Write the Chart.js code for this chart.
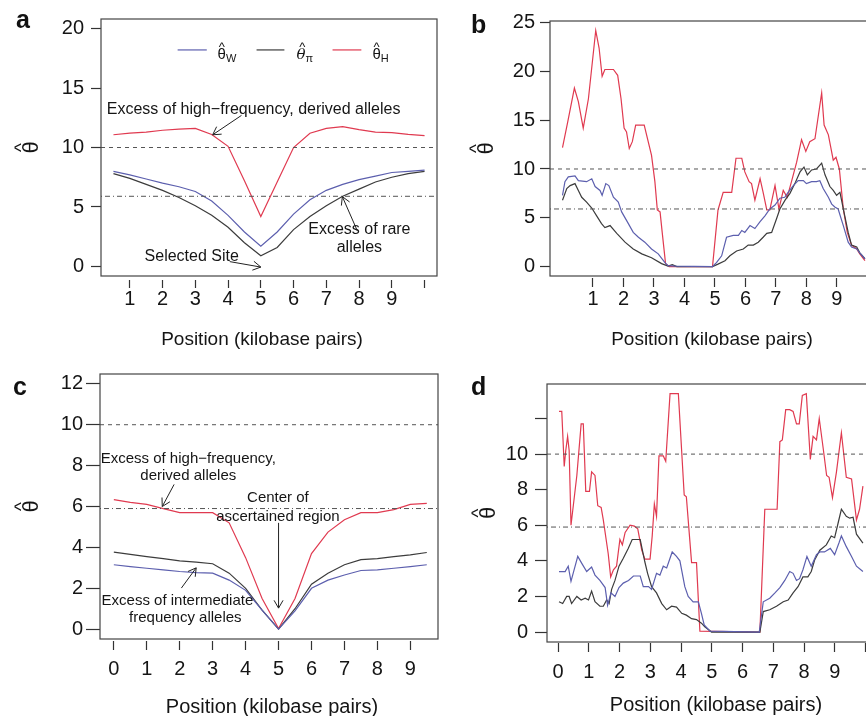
<!DOCTYPE html>
<html><head><meta charset="utf-8">
<script src="https://cdn.jsdelivr.net/npm/chart.js@4/dist/chart.umd.min.js"></script>
<style>
html,body{margin:0;padding:0;background:#fff;width:866px;height:716px;overflow:hidden;position:relative}
canvas{position:absolute;display:block}
</style></head>
<body>
<canvas id="ca" width="440" height="358" style="left:0;top:0"></canvas>
<canvas id="cb" width="449" height="358" style="left:440px;top:0"></canvas>
<canvas id="cc" width="440" height="358" style="left:0;top:358px"></canvas>
<canvas id="cd" width="440" height="358" style="left:440px;top:358px"></canvas>
<script>
// ---------- DATA ----------
// Panel a (x in kilobase pairs)
const aX = [0.5,1,1.5,2,2.5,3,3.5,4,4.5,5,5.5,6,6.5,7,7.5,8,8.5,9,9.5,10];
const aThetaW  = [8.0,7.7,7.35,7.0,6.7,6.3,5.5,4.3,2.9,1.7,2.9,4.4,5.6,6.4,6.9,7.3,7.6,7.9,8.0,8.1];
const aThetaPi = [7.8,7.4,6.9,6.4,5.8,5.1,4.3,3.3,2.0,0.9,1.6,3.1,4.2,5.1,5.9,6.5,7.1,7.5,7.8,8.0];
const aThetaH  = [11.07,11.2,11.3,11.45,11.55,11.6,11.1,10.1,7.2,4.2,7.1,10.0,11.2,11.6,11.75,11.5,11.3,11.25,11.1,11.0];

// Panel c
const cX = [0,0.5,1,1.5,2,2.5,3,3.5,4,4.5,5,5.5,6,6.5,7,7.5,8,8.5,9,9.5];
const cThetaW  = [3.15,3.06,2.98,2.9,2.82,2.77,2.74,2.4,1.9,0.93,0,0.9,2.0,2.4,2.65,2.87,2.9,2.98,3.06,3.15];
const cThetaPi = [3.77,3.66,3.55,3.45,3.34,3.28,3.2,2.74,2.0,0.93,0,1.0,2.2,2.74,3.15,3.4,3.45,3.55,3.63,3.75];
const cThetaH  = [6.34,6.2,6.1,5.9,5.7,5.7,5.7,5.2,3.5,1.5,0.03,1.5,3.7,4.75,5.35,5.7,5.7,5.85,6.1,6.15];

// Panel b  [position, theta]
const bThetaW = [[0,7.3],[0.08,8.7],[0.19,9.2],[0.41,9.3],[0.52,8.8],[0.79,8.7],[0.96,9.0],[1.07,8.2],[1.23,7.8],[1.3,7.3],[1.42,8.5],[1.52,8.3],[1.67,7.1],[1.83,6.6],[1.94,5.6],[2.16,4.4],[2.32,3.5],[2.49,3.0],[2.7,2.5],[2.92,1.8],[3.14,1.3],[3.36,0.4],[3.46,0.1],[3.7,0.05],[4.92,0],[5.05,0.4],[5.22,1.1],[5.38,3.0],[5.6,3.2],[5.77,3.2],[5.88,3.7],[5.98,3.5],[6.15,4.2],[6.31,3.9],[6.48,4.6],[6.64,5.2],[6.8,5.9],[6.97,6.3],[7.13,7.0],[7.29,7.1],[7.4,7.6],[7.57,8.3],[7.73,8.8],[7.9,8.8],[8.0,8.5],[8.17,8.7],[8.33,8.7],[8.44,8.8],[8.55,8.0],[8.72,7.1],[8.83,6.4],[8.93,6.1],[9.04,5.9],[9.21,4.2],[9.37,2.5],[9.48,2.0],[9.65,1.8],[9.75,1.4],[9.92,0.8]];
const bThetaPi = [[0,6.8],[0.14,8.0],[0.25,8.3],[0.41,8.5],[0.52,7.8],[0.63,7.1],[0.79,6.6],[0.96,6.0],[1.12,5.2],[1.28,4.4],[1.39,4.0],[1.56,4.2],[1.78,3.4],[2.05,2.5],[2.32,1.8],[2.6,1.3],[2.92,0.9],[3.25,0.3],[3.46,0.05],[3.6,0.2],[3.75,0],[4.92,0],[5.1,0.25],[5.33,0.6],[5.49,1.1],[5.71,1.6],[5.93,1.8],[6.09,2.2],[6.26,2.2],[6.42,2.5],[6.58,3.0],[6.7,3.4],[6.86,3.5],[7.02,4.9],[7.13,5.9],[7.3,6.8],[7.46,7.5],[7.62,8.5],[7.79,9.7],[7.92,10.2],[8.03,9.4],[8.17,9.9],[8.33,10.0],[8.5,10.6],[8.61,9.4],[8.77,8.2],[8.88,7.8],[8.99,7.3],[9.1,7.6],[9.21,5.9],[9.37,3.5],[9.48,2.2],[9.65,2.0],[9.75,1.4],[9.92,0.8]];
const bThetaH = [[0,12.2],[0.17,14.8],[0.39,18.3],[0.52,16.9],[0.68,14.2],[0.85,17.2],[1.09,24.2],[1.2,22.4],[1.3,19.5],[1.39,20.2],[1.67,20.2],[1.81,19.6],[1.92,17.2],[2.02,14.2],[2.1,13.8],[2.19,12.1],[2.29,12.8],[2.4,14.5],[2.68,14.5],[2.92,11.4],[3.03,8.7],[3.11,5.8],[3.2,5.6],[3.27,3.5],[3.38,0.3],[3.5,0],[4.92,0],[5.1,5.8],[5.27,7.6],[5.55,7.6],[5.69,11.1],[5.88,11.1],[5.98,9.7],[6.12,8.7],[6.2,8.5],[6.31,6.8],[6.48,9.0],[6.58,7.6],[6.7,5.8],[6.8,5.8],[6.97,8.3],[7.1,5.9],[7.24,7.8],[7.37,7.1],[7.51,8.7],[7.68,10.7],[7.84,13.0],[7.98,11.8],[8.11,12.8],[8.28,13.1],[8.5,17.8],[8.58,14.5],[8.72,13.5],[8.88,10.9],[8.97,11.2],[9.08,10.0],[9.21,5.9],[9.34,3.5],[9.48,2.2],[9.65,1.8],[9.75,1.3],[9.92,0.6]];

// Panel d  [position, theta]
const dThetaW = [[0.03,3.4],[0.23,3.4],[0.33,3.7],[0.42,2.85],[0.64,4.25],[0.79,3.8],[0.93,3.4],[1.09,3.65],[1.2,3.2],[1.36,2.9],[1.53,2.5],[1.61,1.5],[1.72,2.2],[1.85,2.0],[1.98,2.5],[2.12,2.75],[2.29,2.9],[2.45,3.15],[2.67,3.15],[2.77,2.55],[2.94,2.55],[3.04,2.4],[3.2,3.3],[3.31,3.2],[3.42,3.7],[3.53,3.6],[3.71,4.5],[3.85,4.25],[3.96,4.0],[4.12,2.55],[4.23,2.0],[4.39,1.7],[4.56,1.7],[4.66,1.05],[4.75,0.4],[4.94,0.05],[6.54,0],[6.67,1.7],[6.88,1.9],[7.05,2.2],[7.21,2.5],[7.37,2.9],[7.53,3.4],[7.64,3.3],[7.75,2.9],[7.85,3.0],[7.96,3.5],[8.09,4.25],[8.23,3.7],[8.4,4.35],[8.51,4.5],[8.66,4.5],[8.85,4.7],[8.99,4.35],[9.13,5.0],[9.21,5.4],[9.37,4.8],[9.54,4.25],[9.7,3.7],[9.91,3.4]];
const dThetaPi = [[0.03,1.7],[0.15,1.6],[0.28,2.0],[0.36,2.0],[0.44,1.6],[0.61,2.0],[0.75,1.8],[0.88,1.9],[0.99,1.8],[1.09,2.3],[1.2,1.7],[1.36,1.45],[1.47,1.45],[1.58,1.8],[1.66,1.6],[1.74,2.4],[1.85,2.9],[1.98,3.7],[2.12,4.15],[2.28,4.7],[2.41,5.2],[2.67,5.2],[2.82,3.95],[2.91,3.3],[3.04,2.55],[3.2,2.2],[3.37,1.6],[3.53,1.25],[3.69,1.45],[3.85,1.4],[4.02,1.05],[4.17,0.95],[4.34,0.75],[4.5,0.7],[4.66,0.5],[4.77,0.3],[4.99,0],[6.56,0],[6.67,1.15],[6.88,1.25],[7.1,1.45],[7.32,1.7],[7.48,1.8],[7.64,2.2],[7.8,2.55],[7.96,3.1],[8.12,3.1],[8.23,3.4],[8.34,4.05],[8.51,4.6],[8.72,4.9],[8.88,5.4],[8.99,5.3],[9.1,6.1],[9.21,6.9],[9.37,6.5],[9.48,6.4],[9.59,6.45],[9.7,5.5],[9.91,5.0]];
const dThetaH = [[0.03,12.4],[0.12,12.4],[0.2,9.3],[0.25,10.2],[0.31,11.0],[0.36,10.2],[0.42,6.0],[0.61,8.8],[0.75,11.7],[0.82,11.7],[0.9,7.9],[1.02,7.9],[1.09,9.0],[1.2,8.8],[1.29,7.1],[1.4,7.0],[1.47,6.3],[1.63,4.4],[1.71,3.1],[1.8,3.5],[1.9,3.7],[2.01,5.2],[2.09,4.9],[2.18,5.6],[2.34,6.0],[2.48,5.95],[2.59,5.8],[2.72,4.6],[2.82,4.1],[2.99,4.1],[3.06,5.4],[3.13,7.2],[3.2,6.5],[3.28,9.9],[3.42,9.9],[3.5,9.6],[3.64,13.4],[3.91,13.4],[4.1,7.7],[4.17,7.6],[4.34,3.9],[4.5,3.9],[4.61,0.05],[6.56,0],[6.72,6.9],[7.12,6.9],[7.21,10.7],[7.29,10.8],[7.4,12.5],[7.53,12.5],[7.64,12.4],[7.75,11.7],[7.84,11.7],[7.94,13.3],[8.07,13.4],[8.2,9.7],[8.29,11.0],[8.4,10.8],[8.49,12.0],[8.62,10.3],[8.73,8.8],[8.81,8.7],[8.92,7.55],[9.05,9.0],[9.21,11.2],[9.37,8.7],[9.54,8.6],[9.7,6.3],[9.8,6.9],[9.91,8.2]];

// reference levels
const dashedLevel = 10;
const dotDashLevel = 5.9;

// tick values and labels
const aXTicks = [1,2,3,4,5,6,7,8,9,10];
const aXLabels = ['1','2','3','4','5','6','7','8','9',''];
const aYTicks = [0,5,10,15,20];
const bXTicks = [1,2,3,4,5,6,7,8,9,10];
const bXLabels = ['1','2','3','4','5','6','7','8','9',''];
const bYTicks = [0,5,10,15,20,25];
const cXTicks = [0,1,2,3,4,5,6,7,8,9];
const cXLabels = ['0','1','2','3','4','5','6','7','8','9'];
const cYTicks = [0,2,4,6,8,10,12];
const dXTicks = [0,1,2,3,4,5,6,7,8,9,10];
const dXLabels = ['0','1','2','3','4','5','6','7','8','9',''];
const dYTicks = [0,2,4,6,8,10,12];
const dYLabels = ['0','2','4','6','8','10',''];

const xTitleText = 'Position (kilobase pairs)';

// ---------- STYLE ----------
const FONT = '"Liberation Sans", Arial, Helvetica, sans-serif';
const BLUE = '#5c5fae', BLACK = '#3c3c3c', RED = '#e03a50', REF = '#555';
const TXT = '#151515';

const zip = (xs, ys) => xs.map((x, i) => ({x, y: ys[i]}));
const pairs = arr => arr.map(p => ({x: p[0], y: p[1]}));

function drawArrow(ctx, x1, y1, x2, y2) {
  const a = Math.atan2(y2 - y1, x2 - x1), L = 9, s = Math.PI / 6;
  ctx.beginPath();
  ctx.moveTo(x1, y1); ctx.lineTo(x2, y2);
  ctx.moveTo(x2 - L * Math.cos(a - s), y2 - L * Math.sin(a - s));
  ctx.lineTo(x2, y2);
  ctx.lineTo(x2 - L * Math.cos(a + s), y2 - L * Math.sin(a + s));
  ctx.stroke();
}

// theta with a hat; (x, base) = left end of baseline
function thetaHat(ctx, x, base, size, italic) {
  ctx.textAlign = 'left'; ctx.textBaseline = 'alphabetic';
  ctx.font = italic ? ('italic ' + size + 'px "DejaVu Serif", serif') : (size + 'px ' + FONT);
  ctx.fillText('\u03b8', x, base);
  const w = ctx.measureText('\u03b8').width;
  const hs = Math.round(size * 0.85);
  ctx.font = hs + 'px ' + FONT;
  ctx.textAlign = 'center';
  ctx.fillText('^', x + w / 2 + (italic ? size * 0.08 : 0), base - size * 0.5);
  ctx.textAlign = 'left';
  return w;
}

function extras(P) {
  return {
    id: 'extras',
    afterDraw(chart) {
      const ctx = chart.ctx, A = chart.chartArea, sx = chart.scales.x, sy = chart.scales.y;
      const X = v => sx.getPixelForValue(v), Y = v => sy.getPixelForValue(v);
      ctx.save();
      // box
      ctx.strokeStyle = '#444'; ctx.lineWidth = 1.2;
      ctx.strokeRect(A.left, A.top, A.right - A.left, A.bottom - A.top);
      // panel letter
      ctx.fillStyle = '#111';
      ctx.font = 'bold 25px ' + FONT;
      ctx.textAlign = 'left'; ctx.textBaseline = 'alphabetic';
      ctx.fillText(P.letter, P.letterPos[0], P.letterPos[1]);
      // x-axis title
      ctx.fillStyle = TXT;
      ctx.font = P.xtSize + 'px ' + FONT;
      ctx.textAlign = 'center'; ctx.textBaseline = 'middle';
      ctx.fillText(xTitleText, P.xtPos[0], P.xtPos[1]);
      // y-axis title (rotated theta-hat)
      ctx.save();
      ctx.translate(P.ytBase, (A.top + A.bottom) / 2);
      ctx.rotate(-Math.PI / 2);
      ctx.font = '22px ' + FONT;
      const tw = ctx.measureText('\u03b8').width;
      thetaHat(ctx, -tw / 2, 0, 22, false);
      ctx.restore();
      // annotations
      ctx.fillStyle = TXT;
      ctx.font = P.noteSize + 'px ' + FONT;
      ctx.textAlign = 'center'; ctx.textBaseline = 'middle';
      (P.notes || []).forEach(n => ctx.fillText(n.t, X(n.x), Y(n.y)));
      ctx.strokeStyle = '#222'; ctx.lineWidth = 1;
      (P.arrows || []).forEach(r => drawArrow(ctx, X(r[0]), Y(r[1]), X(r[2]), Y(r[3])));
      // legend
      if (P.legend) {
        const ly = Y(P.legend.y);
        P.legend.items.forEach(it => {
          ctx.strokeStyle = it.color; ctx.lineWidth = 1.2;
          ctx.beginPath(); ctx.moveTo(X(it.x1), ly); ctx.lineTo(X(it.x2), ly); ctx.stroke();
          ctx.fillStyle = TXT;
          const tx = X(it.tx);
          const w = thetaHat(ctx, tx, ly + 9, 15, it.italic);
          ctx.font = '11px ' + FONT;
          ctx.textAlign = 'left'; ctx.textBaseline = 'alphabetic';
          ctx.fillText(it.sub, tx + w, ly + 12);
        });
      }
      ctx.restore();
    }
  };
}

function build(id, P) {
  const ref = (v, dash) => ({data: [{x: P.xmin, y: v}, {x: P.xmax, y: v}], borderColor: REF,
    borderWidth: 1, borderDash: dash, pointRadius: 0, fill: false, tension: 0});
  const ser = (d, c) => ({data: d, borderColor: c, borderWidth: 1.2, pointRadius: 0, fill: false, tension: 0});
  const datasets = [ref(dashedLevel, [4, 4]), ref(dotDashLevel, [1, 3, 5, 3]),
    ser(P.w_, BLUE), ser(P.pi_, BLACK), ser(P.h_, RED)];
  new Chart(document.getElementById(id), {
    type: 'line',
    data: {datasets},
    options: {
      responsive: false, animation: false, events: [],
      layout: {padding: {left: 0, top: P.area.top, right: P.cw - P.area.right, bottom: 0}},
      plugins: {legend: {display: false}, tooltip: {enabled: false}},
      scales: {
        x: {
          type: 'linear', min: P.xmin, max: P.xmax,
          afterFit: s => { s.height = P.ch - P.area.bottom; },
          afterBuildTicks: s => { s.ticks = P.xticks.map(v => ({value: v})); },
          ticks: {autoSkip: false, maxRotation: 0, minRotation: 0, padding: P.xpad, color: TXT,
            font: {family: FONT, size: 20}, callback: (v, i) => P.xlabels[i]},
          grid: {drawOnChartArea: false, tickLength: P.xlen, tickColor: '#333', tickWidth: 1.2,
            tickBorderDash: [0, P.xgap, P.xlen - P.xgap, 100]},
          border: {display: false},
          title: {display: false}
        },
        y: {
          type: 'linear', min: P.ymin, max: P.ymax,
          afterFit: s => { s.width = P.area.left; },
          afterBuildTicks: s => { s.ticks = P.yticks.map(v => ({value: v})); },
          ticks: {autoSkip: false, padding: P.ypad, color: TXT, font: {family: FONT, size: 20},
            callback: (v, i) => (P.ylabels ? P.ylabels[i] : String(v))},
          grid: {drawOnChartArea: false, tickLength: P.ylen, tickColor: '#333', tickWidth: 1.2},
          border: {display: false},
          title: {display: false}
        }
      }
    },
    plugins: [extras(P)]
  });
}

build('ca', {
  cw: 440, ch: 358, area: {left: 101, right: 437, top: 14, bottom: 276},
  xmin: 0.12, xmax: 10.38, ymin: -0.8, ymax: 20.8,
  xticks: aXTicks, xlabels: aXLabels, yticks: aYTicks,
  xlen: 12, xgap: 4, xpad: -1, ylen: 10, ypad: 7,
  xtSize: 19, xtPos: [262, 340], ytBase: 38,
  w_: zip(aX, aThetaW), pi_: zip(aX, aThetaPi), h_: zip(aX, aThetaH),
  letter: 'a', letterPos: [16, 28], noteSize: 16,
  notes: [
    {t: 'Excess of high\u2212frequency, derived alleles', x: 4.78, y: 13.2},
    {t: 'Excess of rare', x: 8.01, y: 3.14},
    {t: 'alleles', x: 8.01, y: 1.57},
    {t: 'Selected Site', x: 2.89, y: 0.83}
  ],
  arrows: [[4.41, 12.7, 3.53, 11.07], [7.95, 2.98, 7.49, 5.87], [4.05, 0.41, 5.0, -0.05]],
  legend: {y: 18.2, items: [
    {x1: 2.46, x2: 3.35, tx: 3.68, color: BLUE, sub: 'W', italic: false},
    {x1: 4.87, x2: 5.72, tx: 6.09, color: BLACK, sub: '\u03c0', italic: true},
    {x1: 7.19, x2: 8.07, tx: 8.41, color: RED, sub: 'H', italic: false}
  ]}
});

build('cb', {
  cw: 449, ch: 358, area: {left: 110, right: 446, top: 21, bottom: 276},
  xmin: -0.41, xmax: 10.61, ymin: -0.97, ymax: 25.17,
  xticks: bXTicks, xlabels: bXLabels, yticks: bYTicks,
  xlen: 11, xgap: 2, xpad: 0, ylen: 10, ypad: 5,
  xtSize: 19, xtPos: [272, 340], ytBase: 53,
  w_: pairs(bThetaW), pi_: pairs(bThetaPi), h_: pairs(bThetaH),
  letter: 'b', letterPos: [31, 33], noteSize: 16
});

build('cc', {
  cw: 440, ch: 358, area: {left: 100, right: 438, top: 16, bottom: 281},
  xmin: -0.42, xmax: 9.84, ymin: -0.48, ymax: 12.48,
  xticks: cXTicks, xlabels: cXLabels, yticks: cYTicks,
  xlen: 11, xgap: 2, xpad: 7, ylen: 14, ypad: 3,
  xtSize: 20, xtPos: [272, 349], ytBase: 38,
  w_: zip(cX, cThetaW), pi_: zip(cX, cThetaPi), h_: zip(cX, cThetaH),
  letter: 'c', letterPos: [13, 37], noteSize: 15,
  notes: [
    {t: 'Excess of high\u2212frequency,', x: 2.26, y: 8.35},
    {t: 'derived alleles', x: 2.26, y: 7.52},
    {t: 'Center of', x: 4.98, y: 6.44},
    {t: 'ascertained region', x: 4.98, y: 5.5},
    {t: 'Excess of intermediate', x: 1.93, y: 1.38},
    {t: 'frequency alleles', x: 2.17, y: 0.54}
  ],
  arrows: [[1.83, 7.08, 1.47, 6.0], [5, 5.2, 5, 1.03], [2.05, 2.01, 2.5, 3.0]]
});

build('cd', {
  cw: 440, ch: 358, area: {left: 107, right: 438, top: 26, bottom: 284},
  xmin: -0.36, xmax: 10.4, ymin: -0.56, ymax: 13.94,
  xticks: dXTicks, xlabels: dXLabels, yticks: dYTicks, ylabels: dYLabels,
  xlen: 10, xgap: 1, xpad: 8, ylen: 12, ypad: 7,
  xtSize: 20, xtPos: [276, 347], ytBase: 55,
  w_: pairs(dThetaW), pi_: pairs(dThetaPi), h_: pairs(dThetaH),
  letter: 'd', letterPos: [31, 37], noteSize: 15
});
</script>
</body></html>
